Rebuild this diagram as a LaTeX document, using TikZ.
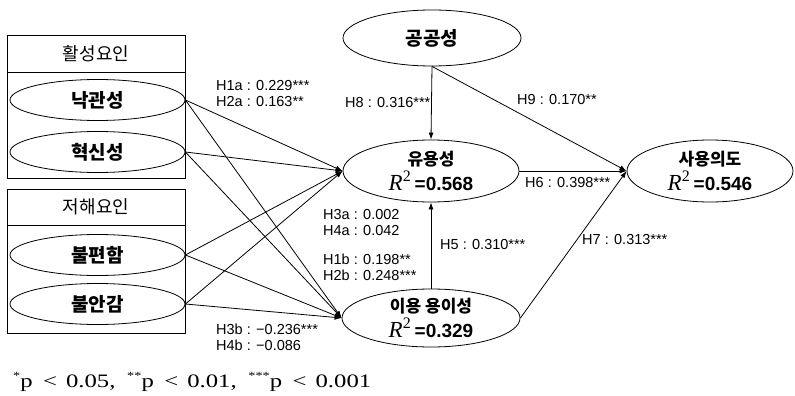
\documentclass[tikz,border=0pt]{standalone}
\usepackage{fontspec}
\setmainfont{Liberation Sans}
\newfontfamily\kr{Noto Sans CJK KR}
\newfontfamily\tnr{Liberation Serif}
\usetikzlibrary{shapes.geometric,arrows.meta}

% R^2 in serif italic with an upright superscript
\newcommand{\rsq}{{\tnr\mdseries\fontsize{23}{23}\selectfont\itshape R\raisebox{9pt}{\upshape\fontsize{16}{16}\selectfont 2}}}
% significance stars for the footnote
\newcommand{\sig}[1]{\raisebox{7.5pt}{\fontsize{11}{11}\selectfont #1}}

\begin{document}
\begin{tikzpicture}[x=1pt,y=-1pt,
  oval/.style={ellipse,draw,line width=0.8pt,inner sep=0pt},
  factor/.style={oval,minimum width=175pt,minimum height=41pt,
    font=\kr\bfseries\fontsize{19}{20}\selectfont},
  construct/.style={oval,align=center,
    font=\kr\bfseries\fontsize{17}{25}\selectfont},
  grp/.style={draw,line width=0.8pt},
  head/.style={font=\kr\fontsize{18}{20}\selectfont,inner sep=0pt},
  lbl/.style={font=\fontsize{14.5}{16}\selectfont,align=left,anchor=west,inner sep=0pt},
  path/.style={draw,line width=0.8pt,-{Latex[length=7pt,width=5pt]}}]

\useasboundingbox (0,0) rectangle (795,396);

% group frames
\draw[grp] (7,35) rectangle (185,178);
\draw[grp] (7,72) -- (185,72);
\draw[grp] (7,189) rectangle (185,333);
\draw[grp] (7,225) -- (185,225);
\node[head] (hd1) at (96,53.5) {활성요인};
\node[head] (hd2) at (96,207) {저해요인};

% exogenous factors
\node[factor] (opt) at (97.5,100) {낙관성};
\node[factor] (inn) at (97.5,152) {혁신성};
\node[factor] (inc) at (97.5,255) {불편함};
\node[factor] (ins) at (97.5,304) {불안감};

% constructs
\node[construct,minimum width=178pt,minimum height=56pt,
  font=\kr\bfseries\fontsize{19}{20}\selectfont] (pub) at (432,38) {공공성};
\node[construct,minimum width=176pt,minimum height=62pt] (use) at (431,171)
  {유용성\\\rsq\ {\rmfamily\bfseries\fontsize{19}{20}\selectfont =0.568}};
\node[construct,minimum width=178pt,minimum height=58pt] (ease) at (431,318)
  {이용 용이성\\\rsq\ {\rmfamily\bfseries\fontsize{19}{20}\selectfont =0.329}};
\node[construct,minimum width=166pt,minimum height=62pt] (int) at (710,171)
  {사용의도\\\rsq\ {\rmfamily\bfseries\fontsize{19}{20}\selectfont =0.546}};

% paths from the factors
\foreach \s in {opt,inn,inc,ins}{
  \draw[path] (\s.east) -- (use.west);
  \draw[path] (\s.east) -- (ease.west);
}
\draw[path] (pub.south) -- (use.north);
\draw[path] (pub.south) -- (int.west);
\draw[path] (use.east) -- (int.west);
\draw[path] (ease.east) -- (int.west);
\draw[path] (ease.north) -- (use.south);

% path coefficients
\node[lbl] (l12a) at (216,94) {H1a : 0.229***\\H2a : 0.163**};
\node[lbl] (l34a) at (323,222.5) {H3a : 0.002\\H4a : 0.042};
\node[lbl] (l12b) at (323,267) {H1b : 0.198**\\H2b : 0.248***};
\node[lbl] (l34b) at (216,337.5) {H3b : −0.236***\\H4b : −0.086};
\node[lbl] (l8) at (345,103) {H8 : 0.316***};
\node[lbl] (l9) at (517,100) {H9 : 0.170**};
\node[lbl] (l6) at (525,183) {H6 : 0.398***};
\node[lbl] (l5) at (440,245) {H5 : 0.310***};
\node[lbl] (l7) at (582,240) {H7 : 0.313***};

% significance note
\node[anchor=base west,inner sep=0pt,font=\tnr\fontsize{19}{20}\selectfont] (note) at (13,387)
  {\scalebox{1.3}[1]{\sig{*}p\hspace{8pt}<\hspace{7pt}0.05,\hspace{9pt}\sig{**}p\hspace{8pt}<\hspace{7pt}0.01,\hspace{9pt}\sig{***}p\hspace{8pt}<\hspace{7pt}0.001}};
\end{tikzpicture}
\end{document}
